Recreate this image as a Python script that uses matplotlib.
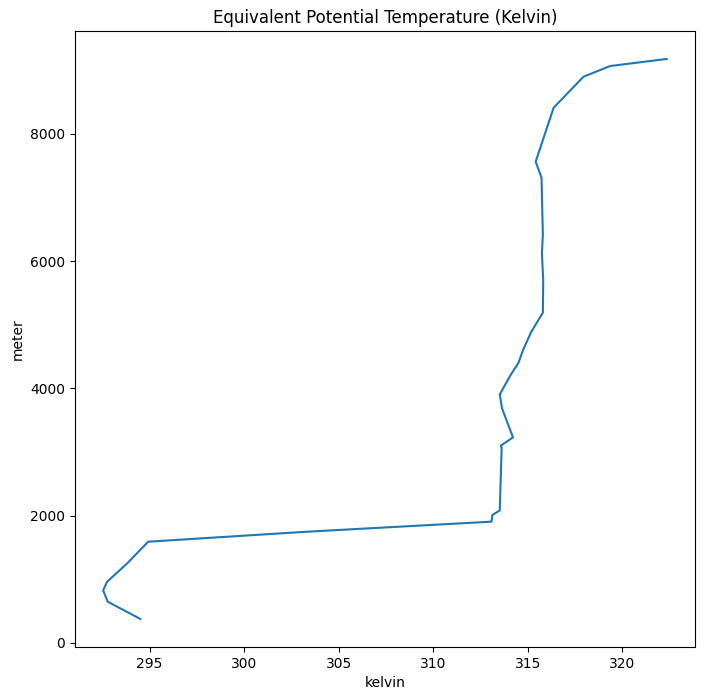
import matplotlib
matplotlib.use("Agg")
import matplotlib.pyplot as plt

# profile values
theta_e = [294.51, 292.78, 292.54, 292.75, 293.81, 294.92, 303.3, 313.08, 313.13,
           313.52, 313.62, 313.58, 314.22, 313.64, 313.52, 314.04, 314.52, 314.75,
           315.19, 315.80, 315.82, 315.75, 315.80, 315.73, 315.42, 316.37, 317.95,
           319.36, 322.35]
height = [373, 645, 823, 959, 1247, 1588, 1745, 1903, 2008,
          2080, 3060, 3100, 3228, 3684, 3904, 4182, 4407, 4602,
          4890, 5189, 5700, 6121, 6410, 7311, 7563, 8412, 8899,
          9067, 9178]

fig = plt.figure(figsize=(7.04, 6.99), dpi=100)
ax = fig.add_axes([0.1065, 0.0744, 0.8805, 0.8813])
ax.plot(theta_e, height)
ax.set_title("Equivalent Potential Temperature (Kelvin)")
ax.set_xlabel("kelvin")
ax.set_ylabel("meter")
fig.savefig("out.png", dpi=100)
